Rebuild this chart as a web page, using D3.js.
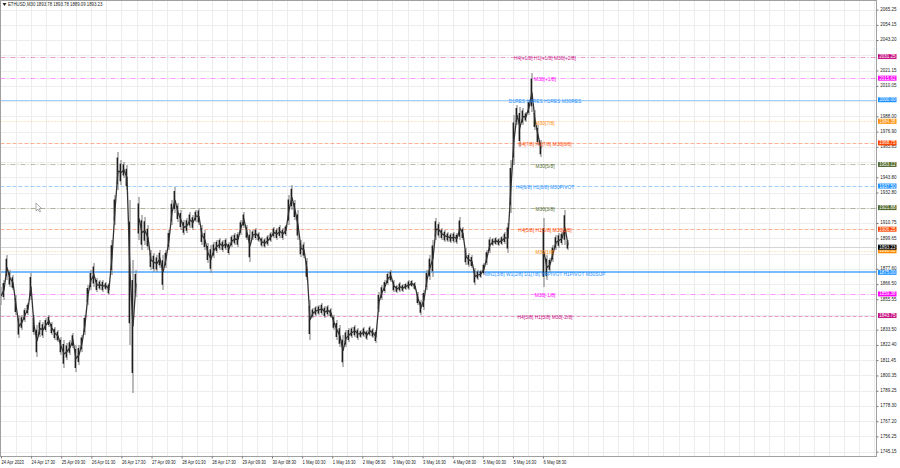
<!DOCTYPE html>
<html><head><meta charset="utf-8">
<script src="https://cdn.jsdelivr.net/npm/d3@7"></script>
<style>
html,body{margin:0;padding:0;background:#fff;}
svg{display:block;font-family:"Liberation Sans",Arial,sans-serif;}
</style></head>
<body><svg id="c" width="900" height="468"></svg>
<script>
// ---------- DATA ----------
const symbolTitle = "ETHUSD,M30  1893.78 1893.78 1889.09 1893.23";
const timeLabels = ["24 Apr 2023","24 Apr 17:30","25 Apr 09:30","26 Apr 01:30","26 Apr 17:30","27 Apr 09:30","28 Apr 01:30","28 Apr 17:30","29 Apr 09:30","30 Apr 08:30","1 May 00:30","1 May 16:30","2 May 08:30","3 May 00:30","3 May 16:30","4 May 08:30","5 May 00:30","5 May 16:30","6 May 08:30"];
const priceTicks = [2065.25,2054.15,2043.20,2032.10,2021.15,2010.05,1999.00,1988.00,1976.90,1965.85,1954.85,1943.80,1932.80,1921.70,1910.75,1899.65,1888.60,1877.60,1866.50,1855.55,1844.45,1833.50,1822.40,1811.45,1800.35,1789.25,1778.30,1767.20,1756.25,1745.15];
const high = [1864.4,1869.5,1887.6,1876.7,1873.1,1858.6,1844.2,1844.2,1849.2,1852.8,1874.6,1844.2,1836.9,1840.5,1839.1,1842.0,1844.2,1839.1,1835.5,1833.3,
1828.2,1826.1,1823.9,1826.1,1831.1,1822.4,1822.4,1829.7,1844.2,1865.9,1876.7,1881.8,1870.9,1869.5,1869.5,1868.0,1867.3,1898.5,1931.0,1962.2,
1956.4,1954.9,1952.8,1927.4,1884.0,1876.7,1929.6,1916.6,1915.1,1909.3,1891.2,1889.1,1887.6,1891.2,1887.6,1891.2,1905.7,1927.4,1936.8,1925.3,
1920.2,1912.9,1914.4,1918.7,1916.6,1920.2,1921.6,1909.3,1905.7,1896.3,1894.8,1897.0,1898.5,1899.9,1898.5,1899.9,1897.0,1902.1,1903.5,1904.3,
1912.9,1918.7,1909.3,1905.7,1905.7,1907.2,1904.3,1900.6,1899.9,1902.1,1904.3,1907.9,1907.2,1909.3,1907.2,1909.3,1931.0,1938.3,1927.4,1920.2,
1898.5,1897.0,1885.4,1855.0,1849.2,1850.7,1851.4,1852.8,1850.7,1851.4,1849.2,1844.2,1840.5,1836.9,1829.7,1833.3,1834.7,1835.5,1836.9,1834.7,
1833.3,1835.5,1833.3,1836.2,1834.7,1833.3,1860.8,1865.9,1869.5,1875.3,1876.7,1869.5,1865.9,1868.0,1866.6,1867.3,1869.5,1869.5,1868.0,1860.8,
1855.0,1862.3,1876.7,1887.6,1898.5,1914.4,1911.5,1907.2,1905.7,1904.3,1903.5,1904.3,1903.5,1915.1,1907.9,1892.7,1889.1,1887.6,1878.2,1876.7,
1876.7,1881.8,1891.2,1900.6,1899.9,1900.6,1899.9,1901.4,1904.3,1910.8,1956.4,1989.0,1996.2,1994.8,1994.0,1991.1,1999.8,2019.4,1992.6,1981.7,
1970.9,1914.4,1887.6,1885.4,1894.8,1902.1,1903.5,1904.3,1920.2,1898.5];
const low = [1851.4,1855.0,1869.5,1864.4,1862.3,1844.2,1827.5,1833.3,1839.1,1844.2,1855.0,1829.7,1813.7,1828.2,1827.5,1831.8,1835.5,1829.7,1826.1,1824.6,
1815.2,1805.8,1811.6,1815.2,1820.3,1802.9,1807.9,1817.4,1829.7,1851.4,1862.3,1864.4,1860.8,1862.3,1860.8,1862.3,1858.6,1873.1,1909.3,1934.7,
1938.3,1943.4,1934.7,1822.4,1787.7,1857.2,1898.5,1891.2,1894.8,1891.2,1876.7,1875.3,1875.3,1878.2,1862.3,1878.2,1891.2,1909.3,1918.0,1911.5,
1905.7,1902.1,1903.5,1907.2,1905.7,1911.5,1909.3,1894.8,1891.2,1881.8,1874.6,1885.4,1889.1,1891.2,1889.8,1891.2,1887.6,1893.4,1894.8,1893.4,
1902.1,1907.2,1898.5,1882.5,1898.5,1898.5,1897.0,1893.4,1892.7,1894.1,1897.0,1899.9,1898.5,1899.9,1898.5,1901.4,1909.3,1920.2,1912.9,1898.5,
1886.2,1885.4,1869.5,1826.1,1842.0,1843.4,1844.2,1844.2,1842.0,1843.4,1842.0,1833.3,1826.1,1821.0,1806.5,1821.0,1824.6,1827.5,1828.2,1826.1,
1827.5,1828.2,1826.1,1828.9,1827.5,1823.9,1846.3,1855.0,1860.1,1865.9,1868.0,1860.8,1860.1,1860.8,1860.8,1862.3,1862.3,1864.4,1862.3,1851.4,
1844.2,1847.8,1862.3,1869.5,1871.7,1898.5,1899.9,1898.5,1897.0,1897.0,1896.3,1896.3,1895.6,1898.5,1898.5,1880.4,1878.9,1878.2,1865.9,1869.5,
1870.9,1873.1,1880.4,1889.1,1894.1,1894.8,1894.1,1894.8,1895.6,1889.1,1918.0,1952.8,1981.7,1965.8,1981.7,1983.9,1989.0,1991.1,1978.1,1967.3,
1958.6,1864.4,1869.5,1875.3,1882.5,1891.2,1892.7,1894.8,1894.8,1891.2];
const levelValues = [2031.25,2015.62,2000.00,1984.38,1968.75,1953.12,1937.50,1921.88,1906.25,1890.62,1875.00,1859.38,1843.75];
const levelLabels = ["H4[+1/8] H1[+1/8] M30[+2/8]","M30[+1/8]","D1RES H4RES H1RES M30RES","M30[7/8]","H4[7/8] H1[7/8] M30[6/8]","M30[5/8]","H4[6/8] H1[6/8] M30PIVOT","M30[3/8]","H4[5/8] H1[5/8] M30[2/8]","M30[1/8]","MN1[3/8] W1[2/8] D1[7/8] H4PIVOT H1PIVOT M30SUP","M30[-1/8]","H4[3/8] H1[3/8] M30[-2/8]"];
const lastPrice = 1893.23;

// ---------- STYLES ----------
const levelStyle = [
 {c:"#c71585",d:"5,2,1,2",w:1},
 {c:"#ff00ff",d:"5,2,1,2",w:1},
 {c:"#1e90ff",d:null,w:1},
 {c:"#ff8c00",d:"1,2",w:1},
 {c:"#ff4500",d:"4,2",w:1},
 {c:"#556b2f",d:"5,2,1,2",w:1},
 {c:"#1e90ff",d:"4,2",w:1},
 {c:"#556b2f",d:"5,2,1,2",w:1},
 {c:"#ff4500",d:"4,2",w:1},
 {c:"#ff8c00",d:"1,2",w:1},
 {c:"#1e90ff",d:null,w:2},
 {c:"#ff00ff",d:"5,2,1,2",w:1},
 {c:"#c71585",d:"4,2",w:1}
];
const FS = 4.9;

const plotL = 0.5, plotR = 876.5, plotT = 0.5, plotB = 456.5;
const svg = d3.select("#c");

const y = d3.scaleLinear().domain([1745.15, 2065.25]).range([451.7, 9.6]);
const x = d3.scaleLinear().domain([0, high.length - 1]).range([1, 568]);
const xt = d3.scalePoint().domain(timeLabels).range([1, 543]);

// grid
const g = svg.append("g");
const step = xt.step() / 2;
d3.range(1, Math.floor((plotR - 1) / step) + 1).forEach(k => {
  const gx = Math.round(1 + k * step) + 0.5;
  if (gx < plotR) g.append("line").attr("x1", gx).attr("x2", gx).attr("y1", plotT).attr("y2", plotB)
    .attr("stroke", "#ededed").attr("stroke-width", 1);
});
priceTicks.forEach(t => {
  const gy = Math.round(y(t)) + 0.5;
  g.append("line").attr("x1", plotL).attr("x2", plotR).attr("y1", gy).attr("y2", gy)
    .attr("stroke", "#ededed").attr("stroke-width", 1);
});

// level lines
levelValues.forEach((v, i) => {
  const s = levelStyle[i];
  const ly = Math.round(y(v)) + (s.w === 2 ? 0 : 0.5);
  svg.append("line").attr("x1", plotL).attr("x2", plotR).attr("y1", ly).attr("y2", ly)
    .attr("stroke", s.c).attr("stroke-width", s.w).attr("stroke-opacity", s.w === 2 ? 0.6 : 0.42)
    .attr("stroke-dasharray", s.d);
});
// bid line
svg.append("line").attr("x1", plotL).attr("x2", plotR)
  .attr("y1", Math.round(y(lastPrice)) + 0.5).attr("y2", Math.round(y(lastPrice)) + 0.5)
  .attr("stroke", "#d4d4d4").attr("stroke-width", 1);

// candles (high-low ranges) + connecting mid path, broken at price gaps
svg.append("g").selectAll("line").data(high).join("line")
  .attr("x1", (d, i) => x(i)).attr("x2", (d, i) => x(i))
  .attr("y1", d => y(d)).attr("y2", (d, i) => y(low[i]))
  .attr("stroke", "#8c8c8c").attr("stroke-width", 1.2);
svg.append("g").selectAll("line").data(high).join("line")
  .attr("x1", (d, i) => x(i) - 0.7).attr("x2", (d, i) => x(i) - 0.7)
  .attr("y1", (d, i) => y(d) + (y(low[i]) - y(d)) * 0.15)
  .attr("y2", (d, i) => y(low[i]) - (y(low[i]) - y(d)) * 0.15)
  .attr("stroke", "#1e1e1e").attr("stroke-width", 1.4);
const segments = [[]];
high.forEach((h, i) => {
  if (i > 0 && (low[i - 1] - h > 20 || low[i] - high[i - 1] > 20)) segments.push([]);
  segments[segments.length - 1].push(i);
});
const midLine = d3.line().x(i => x(i)).y(i => (y(high[i]) + y(low[i])) / 2);
segments.forEach(seg => {
  svg.append("path").attr("d", midLine(seg))
    .attr("fill", "none").attr("stroke", "#333").attr("stroke-width", 1.3);
});

// level labels
levelValues.forEach((v, i) => {
  svg.append("text").attr("transform", `translate(545,${y(v) + 2})`)
    .attr("text-anchor", "middle").attr("dominant-baseline", "middle")
    .attr("font-size", FS).attr("fill", levelStyle[i].c).text(levelLabels[i]);
});

// frame
svg.append("rect").attr("x", plotL).attr("y", plotT).attr("width", plotR - plotL).attr("height", plotB - plotT)
  .attr("fill", "none").attr("stroke", "#a0a0a0").attr("stroke-width", 1);

// y axis (labels hidden behind price boxes are skipped, as in the terminal)
const boxVals = levelValues.concat([lastPrice]);
const shownTicks = priceTicks.filter(t => boxVals.every(b => Math.abs(y(t) - y(b)) >= 3));
const ya = svg.append("g").attr("transform", `translate(${plotR},0)`)
  .call(d3.axisRight(y).tickValues(shownTicks).tickSize(2).tickFormat(d3.format(".2f")));
ya.select(".domain").remove();
ya.selectAll("line").attr("stroke", "#777");
ya.selectAll("text").attr("font-size", FS).attr("fill", "#222").attr("x", 4)
  .attr("dy", "0.3em").attr("y", -0.6)
  .attr("transform", "scale(0.92,1)")
  .attr("font-family", "Liberation Sans, Arial, sans-serif");

// price boxes
boxVals.forEach((v, i) => {
  const c = i < levelValues.length ? levelStyle[i].c : "#000";
  const by = y(v);
  svg.append("rect").attr("x", plotR + 1.5).attr("y", by - 2.5).attr("width", 18.5).attr("height", 5).attr("fill", c);
  svg.append("text").attr("transform", `translate(${plotR + 2.8},${by + 0.2}) scale(0.92,1)`)
    .attr("dominant-baseline", "middle")
    .attr("font-size", FS).attr("fill", "#fff").text(d3.format(".2f")(v));
});

// x axis
const xa = svg.append("g").attr("transform", `translate(0,${plotB})`)
  .call(d3.axisBottom(xt).tickSize(2).tickSizeOuter(0));
xa.select(".domain").remove();
xa.selectAll("line").attr("stroke", "#777");
xa.selectAll("text").attr("font-size", FS).attr("fill", "#222").attr("text-anchor", "start")
  .attr("dy", 0).attr("y", 7.5).attr("transform", "scale(0.85,1)")
  .attr("font-family", "Liberation Sans, Arial, sans-serif");

// title
svg.append("path").attr("d", "M2.5,3 L6.5,3 L4.5,6 Z").attr("fill", "#222");
svg.append("text").attr("transform", "translate(8,5) scale(0.88,1)").attr("dominant-baseline", "middle")
  .attr("font-size", FS).attr("fill", "#222").text(symbolTitle);

// mouse cursor decoration
svg.append("path").attr("transform", "translate(36,203)")
  .attr("d", "M0,0 L0,8 L2,6 L3.5,9 L4.6,8.5 L3.2,5.6 L5.6,5.6 Z")
  .attr("fill", "#fff").attr("stroke", "#888").attr("stroke-width", 0.7);
</script></body></html>
